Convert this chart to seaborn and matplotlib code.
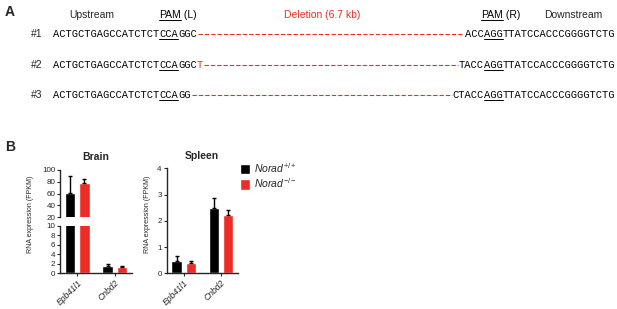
import numpy as np
import pandas as pd
import seaborn as sns
import matplotlib
matplotlib.use("Agg")
import matplotlib.pyplot as plt
from matplotlib.lines import Line2D
from matplotlib.patches import Patch

# ---- data ----
genes = ["Epb41l1", "Cnbd2"]
genotypes = ["Norad+/+", "Norad-/-"]
brain_wt = [61, 1.6]
brain_wt_err = [29, 0.3]
brain_ko = [78, 1.35]
brain_ko_err = [6, 0.2]
spleen_wt = [0.45, 2.5]
spleen_wt_err = [0.2, 0.38]
spleen_ko = [0.41, 2.24]
spleen_ko_err = [0.04, 0.18]

# sequences: (left part, PAM, rest) and (prefix, PAM, rest)
left_seqs = [("ACTGCTGAGCCATCTCT", "CCA", "GGC", ""),
             ("ACTGCTGAGCCATCTCT", "CCA", "GGC", "T"),
             ("ACTGCTGAGCCATCTCT", "CCA", "GG", "")]
right_seqs = [("ACC", "AGG", "TTATCCACCCGGGGTCTG"),
              ("TACC", "AGG", "TTATCCACCCGGGGTCTG"),
              ("CTACC", "AGG", "TTATCCACCCGGGGTCTG")]
row_names = ["#1", "#2", "#3"]

black = "#000000"
red = "#EC2C25"

sns.set_style("ticks")
plt.rcParams["font.family"] = ["Liberation Sans", "DejaVu Sans"]
plt.rcParams["mathtext.fontset"] = "custom"
plt.rcParams["mathtext.rm"] = "Liberation Sans"
plt.rcParams["mathtext.it"] = "Liberation Sans:italic"

W, H = 617, 309
fig = plt.figure(figsize=(W / 100, H / 100), dpi=100)
renderer = fig.canvas.get_renderer()


def fx(x):
    return x / W


def fy(y):
    return 1 - y / H


def put_parts(x, y, parts, align="left", family="Liberation Mono", size=7.5):
    # parts: (text, colour, underline)
    objs, widths = [], []
    for s, c, u in parts:
        t = fig.text(0, fy(y), s, fontfamily=family, fontsize=size, color=c, va="baseline")
        objs.append(t)
        widths.append(t.get_window_extent(renderer=renderer).width)
    total = sum(widths)
    cur = x if align == "left" else x - total
    start = cur
    for (s, c, u), t, w in zip(parts, objs, widths):
        t.set_x(fx(cur))
        if u:
            fig.add_artist(Line2D([fx(cur), fx(cur + w)], [fy(y + 2.2)] * 2, color=c, lw=0.7))
        cur += w
    return start, cur


# ---- panel A ----
fig.text(fx(5), fy(12), "A", fontsize=10, fontweight="bold", va="center")
hb = 17.5
fig.text(fx(92), fy(hb), "Upstream", fontsize=7.5, ha="center", va="baseline")
put_parts(159, hb, [("PAM", black, True), (" (L)", black, False)], family="Liberation Sans")
fig.text(fx(322), fy(hb), "Deletion (6.7 kb)", fontsize=7.5, ha="center", va="baseline", color=red)
put_parts(481, hb, [("PAM", black, True), (" (R)", black, False)], family="Liberation Sans")
fig.text(fx(544), fy(hb), "Downstream", fontsize=7.5, va="baseline")

for i, base in enumerate([36.7, 67.7, 97.7]):
    fig.text(fx(31), fy(base), row_names[i], fontsize=7.5, va="baseline")
    a, p, r, extra = left_seqs[i]
    lparts = [(a, black, False), (p, black, True), (r, black, False)]
    if extra:
        lparts.append((extra, red, False))
    _, lend = put_parts(53, base, lparts)
    pre, p2, rest = right_seqs[i]
    rstart, _ = put_parts(615, base, [(pre, black, False), (p2, black, True), (rest, black, False)],
                          align="right")
    ln = Line2D([fx(lend + 1), fx(rstart - 1)], [fy(base - 3)] * 2, color=red, lw=0.8)
    ln.set_dashes((3.9, 1.8))
    fig.add_artist(ln)

# ---- panel B ----
fig.text(fx(5), fy(147), "B", fontsize=10, fontweight="bold", va="center")


def axes_px(left, right, top, bottom):
    return fig.add_axes([fx(left), fy(bottom), (right - left) / W, (bottom - top) / H])


ax_bt = axes_px(60, 132, 170, 217.3)
ax_bb = axes_px(60, 132, 226, 273.3)
ax_sp = axes_px(166.5, 238, 168.3, 273.3)

brain = pd.DataFrame({"gene": genes * 2,
                      "genotype": [genotypes[0]] * 2 + [genotypes[1]] * 2,
                      "fpkm": brain_wt + brain_ko})
spleen = pd.DataFrame({"gene": genes * 2,
                       "genotype": [genotypes[0]] * 2 + [genotypes[1]] * 2,
                       "fpkm": spleen_wt + spleen_ko})


def bars(ax, df, errs):
    sns.barplot(data=df, x="gene", y="fpkm", hue="genotype", palette=[black, red],
                errorbar=None, width=0.76, gap=0.27, saturation=1, legend=False, ax=ax)
    for cont, e in zip(ax.containers, errs):
        xs = [b.get_x() + b.get_width() / 2 for b in cont]
        ys = [b.get_height() for b in cont]
        ax.errorbar(xs, ys, yerr=[np.zeros(len(e)), e], fmt="none", ecolor="black",
                    elinewidth=1, capsize=1.5, capthick=1)
    ax.set_xlim(-0.46, 1.46)
    ax.set_xlabel("")
    ax.set_ylabel("")
    ax.tick_params(axis="both", labelsize=5.8, length=2.2, width=0.8, pad=1.2)
    for s in ["top", "right"]:
        ax.spines[s].set_visible(False)
    for s in ["left", "bottom"]:
        ax.spines[s].set_linewidth(1)


bars(ax_bt, brain, [brain_wt_err, brain_ko_err])
bars(ax_bb, brain, [brain_wt_err, brain_ko_err])
bars(ax_sp, spleen, [spleen_wt_err, spleen_ko_err])

ax_bt.set_ylim(20, 100)
ax_bt.set_yticks([20, 40, 60, 80, 100])
ax_bt.spines["bottom"].set_visible(False)
ax_bt.tick_params(axis="x", bottom=False, labelbottom=False)
ax_bb.set_ylim(0, 10)
ax_bb.set_yticks([0, 2, 4, 6, 8, 10])
ax_sp.set_ylim(0, 4)
ax_sp.set_yticks([0, 1, 2, 3, 4])

for ax in [ax_bb, ax_sp]:
    ax.set_xticks([0, 1])
    ax.set_xticklabels(genes, rotation=45, ha="right", rotation_mode="anchor",
                       fontstyle="italic", fontsize=6.2)

ax_bt.set_title("Brain", fontsize=7.5, fontweight="bold", pad=7.5)
ax_sp.set_title("Spleen", fontsize=7.5, fontweight="bold", pad=6.5)

ax_bb.set_ylabel("RNA expression (FPKM)", fontsize=5)
ax_bb.yaxis.set_label_coords(-0.36, 1.254)
ax_sp.set_ylabel("RNA expression (FPKM)", fontsize=5)
ax_sp.yaxis.set_label_coords(-0.21, 0.56)

handles = [Patch(facecolor=black), Patch(facecolor=red)]
labels = [r"$\it{Norad}^{+/+}$", r"$\it{Norad}^{-/-}$"]
fig.legend(handles, labels, loc="upper left", bbox_to_anchor=(fx(240), fy(161)),
           frameon=False, fontsize=7.5, handlelength=1.0, handleheight=1.15,
           handletextpad=0.35, labelspacing=0.15, borderpad=0, borderaxespad=0)

fig.savefig("out.png", dpi=100)
